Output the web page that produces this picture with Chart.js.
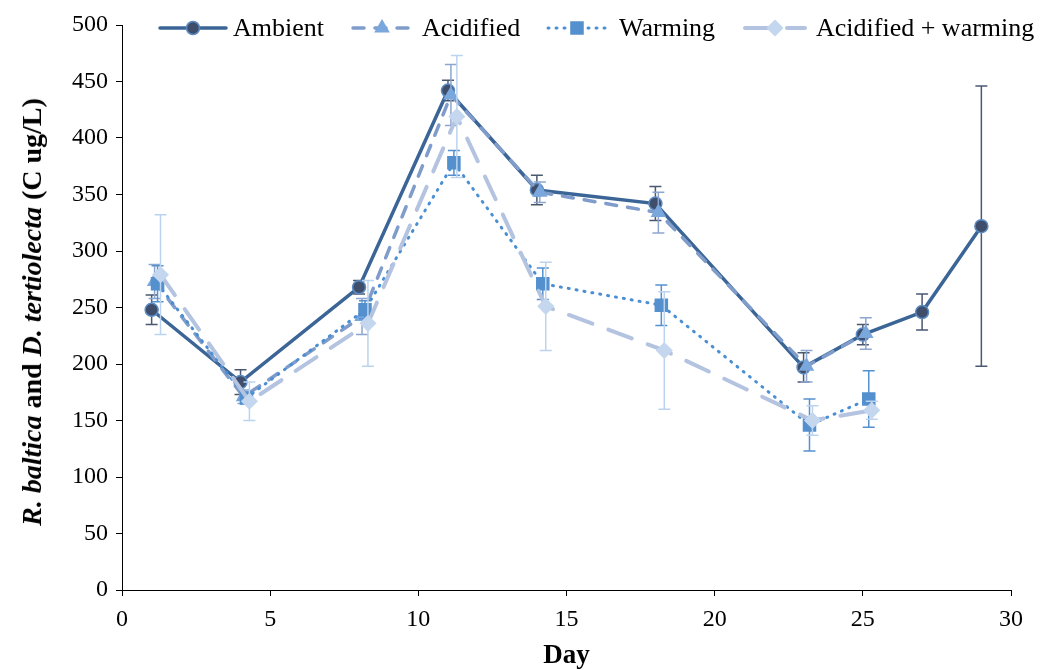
<!DOCTYPE html>
<html>
<head>
<meta charset="utf-8">
<script src="https://cdn.jsdelivr.net/npm/chart.js@4.4.1/dist/chart.umd.min.js"></script>
<style>
  body { margin: 0; background: #fff; }
  #wrap { position: relative; width: 1043px; height: 670px; font-family: "Liberation Serif", "Times New Roman", serif; }
  #chart { position: absolute; left: 0; top: 0; }
  #yTitle {
    position: absolute; left: 32px; top: 312px; white-space: nowrap;
    transform: translate(-50%, -50%) rotate(-90deg);
    font-size: 28px; font-weight: bold; color: #000;
  }
  .legendItem { position: absolute; top: 14px; height: 28px; }
  .legendItem canvas { position: absolute; left: 0; top: 4px; }
  .legendItem span { position: absolute; top: 0; font-size: 26px; line-height: 28px; white-space: nowrap; color: #000; }
</style>
</head>
<body>
<div id="wrap">
  <canvas id="chart" width="1043" height="670"></canvas>
  <div id="yTitle"><i>R. baltica</i> and <i>D. tertiolecta</i> (C ug/L)</div>
  <div id="legend"></div>
</div>
<script>
// days and values (treatments are offset slightly along x)
const ambientDays = [1, 4, 8, 11, 14, 18, 23, 25, 27, 29];
const ambientValues = [248, 184, 268, 442, 354, 342, 197, 226, 246, 322];
const ambientErrors = [13, 11, 6, 9, 13, 15, 13, 9, 16, 124];

const acidifiedDays = [1.1, 4.1, 8.1, 11.1, 14.1, 18.1, 23.1, 25.1];
const acidifiedValues = [273, 171, 242, 438, 352, 334, 198, 227];
const acidifiedErrors = [15, 6, 16, 27, 9, 18, 14, 14];

const warmingDays = [1.2, 4.2, 8.2, 11.2, 14.2, 18.2, 23.2, 25.2];
const warmingValues = [271, 170, 248, 378, 271, 252, 146, 169];
const warmingErrors = [16, 5, 8, 11, 14, 18, 23, 25];

const bothDays = [1.3, 4.3, 8.3, 11.3, 14.3, 18.3, 23.3, 25.3];
const bothValues = [279, 167, 236, 419, 251, 212, 150, 159];
const bothErrors = [53, 17, 38, 54, 39, 52, 13, 8];

const seriesLabels = ["Ambient", "Acidified", "Warming", "Acidified + warming"];
const xTicks = [0, 5, 10, 15, 20, 25, 30];
const yTicks = [0, 50, 100, 150, 200, 250, 300, 350, 400, 450, 500];

const FONT = "'Liberation Serif', 'Times New Roman', serif";

const styles = [
  { line: "#3b6596", width: 3.5, dash: [], marker: "circle", radius: 6.5, fill: "#3f4f6b", stroke: "#5b8cc4", err: "#4a5870" },
  { line: "#7f9cca", width: 3.5, dash: [11, 11], marker: "triangle", radius: 7.5, fill: "#7aa7dc", stroke: "#7aa7dc", err: "#8da6cf" },
  { line: "#4a8ed3", width: 3, dash: [1, 7], marker: "rect", radius: 8.5, fill: "#5490cd", stroke: "#5490cd", err: "#5591cf" },
  { line: "#b3c3e0", width: 4, dash: [25, 17], marker: "rectRot", radius: 7.5, fill: "#c4d7ef", stroke: "#c4d7ef", err: "#bcd3ef" },
];

function toPoints(days, values) {
  return days.map((day, i) => ({ x: day, y: values[i] }));
}

function makeDataset(index, days, values, errors, order) {
  const s = styles[index];
  return {
    label: seriesLabels[index],
    data: toPoints(days, values),
    errors,
    errColor: s.err,
    borderColor: s.line,
    borderWidth: s.width,
    borderDash: s.dash,
    borderCapStyle: "round",
    pointStyle: s.marker,
    pointRadius: s.radius,
    pointBackgroundColor: s.fill,
    pointBorderColor: s.stroke,
    pointBorderWidth: 1.5,
    tension: 0,
    order,
  };
}

const errorBars = {
  id: "errorBars",
  beforeDatasetDraw(chart, args) {
    const ds = chart.data.datasets[args.index];
    if (!ds.errors) return;
    const { ctx, scales } = chart;
    ctx.save();
    ctx.strokeStyle = ds.errColor;
    ctx.lineWidth = 1.5;
    ds.data.forEach((point, i) => {
      const px = scales.x.getPixelForValue(point.x);
      const top = scales.y.getPixelForValue(point.y + ds.errors[i]);
      const bottom = scales.y.getPixelForValue(point.y - ds.errors[i]);
      ctx.beginPath();
      ctx.moveTo(px, top);
      ctx.lineTo(px, bottom);
      ctx.moveTo(px - 6, top);
      ctx.lineTo(px + 6, top);
      ctx.moveTo(px - 6, bottom);
      ctx.lineTo(px + 6, bottom);
      ctx.stroke();
    });
    ctx.restore();
  },
};

const tickFont = { family: FONT, size: 24 };

new Chart(document.querySelector("#chart"), {
  type: "line",
  data: {
    datasets: [
      makeDataset(0, ambientDays, ambientValues, ambientErrors, 4),
      makeDataset(1, acidifiedDays, acidifiedValues, acidifiedErrors, 3),
      makeDataset(2, warmingDays, warmingValues, warmingErrors, 2),
      makeDataset(3, bothDays, bothValues, bothErrors, 1),
    ],
  },
  options: {
    responsive: false,
    animation: false,
    layout: { padding: { top: 25, right: 32, bottom: 0, left: 0 } },
    plugins: { legend: { display: false }, tooltip: { enabled: false } },
    scales: {
      x: {
        type: "linear",
        min: 0,
        max: 30,
        afterBuildTicks: (scale) => { scale.ticks = xTicks.map((value) => ({ value })); },
        afterFit: (scale) => { scale.height = 80; },
        ticks: { font: tickFont, color: "#000", padding: 9 },
        grid: { drawOnChartArea: false, tickLength: 6, color: "#000" },
        border: { color: "#000", width: 1 },
        title: {
          display: true,
          text: "Day",
          color: "#000",
          font: { family: FONT, size: 27, weight: "bold", lineHeight: 1 },
          padding: { top: 0, bottom: 0 },
        },
      },
      y: {
        min: 0,
        max: 500,
        afterBuildTicks: (scale) => { scale.ticks = yTicks.map((value) => ({ value })); },
        afterFit: (scale) => { scale.width = 122; },
        ticks: { font: tickFont, color: "#000", padding: 8 },
        grid: { drawOnChartArea: false, tickLength: 6, color: "#000" },
        border: { color: "#000", width: 1 },
      },
    },
  },
  plugins: [errorBars],
});

// legend: line sample with marker, then label
const legendSlots = [
  { left: 157, sample: 72, text: 233 },
  { left: 350, sample: 64, text: 422 },
  { left: 545, sample: 64, text: 619 },
  { left: 742, sample: 66, text: 816 },
];

function drawMarker(ctx, s, x, y) {
  ctx.fillStyle = s.fill;
  ctx.strokeStyle = s.stroke;
  ctx.lineWidth = 1.5;
  ctx.setLineDash([]);
  ctx.beginPath();
  const r = s.radius;
  if (s.marker === "circle") {
    ctx.arc(x, y, r, 0, Math.PI * 2);
  } else if (s.marker === "triangle") {
    ctx.moveTo(x, y - r);
    ctx.lineTo(x + r * 0.87, y + r * 0.5);
    ctx.lineTo(x - r * 0.87, y + r * 0.5);
    ctx.closePath();
  } else if (s.marker === "rect") {
    const h = r * Math.SQRT1_2;
    ctx.rect(x - h, y - h, h * 2, h * 2);
  } else {
    ctx.moveTo(x, y - r);
    ctx.lineTo(x + r, y);
    ctx.lineTo(x, y + r);
    ctx.lineTo(x - r, y);
    ctx.closePath();
  }
  ctx.fill();
  ctx.stroke();
}

const legend = document.querySelector("#legend");
seriesLabels.forEach((label, i) => {
  const s = styles[i];
  const slot = legendSlots[i];
  const item = document.createElement("div");
  item.className = "legendItem";
  item.style.left = `${slot.left}px`;
  const sample = document.createElement("canvas");
  sample.width = slot.sample;
  sample.height = 20;
  const ctx = sample.getContext("2d");
  ctx.strokeStyle = s.line;
  ctx.lineWidth = s.width;
  ctx.lineCap = "round";
  ctx.setLineDash(s.dash);
  ctx.beginPath();
  ctx.moveTo(3, 10);
  ctx.lineTo(slot.sample - 3, 10);
  ctx.stroke();
  drawMarker(ctx, s, slot.sample / 2, 10);
  const text = document.createElement("span");
  text.style.left = `${slot.text - slot.left}px`;
  text.textContent = label;
  item.appendChild(sample);
  item.appendChild(text);
  legend.appendChild(item);
});
</script>
</body>
</html>
